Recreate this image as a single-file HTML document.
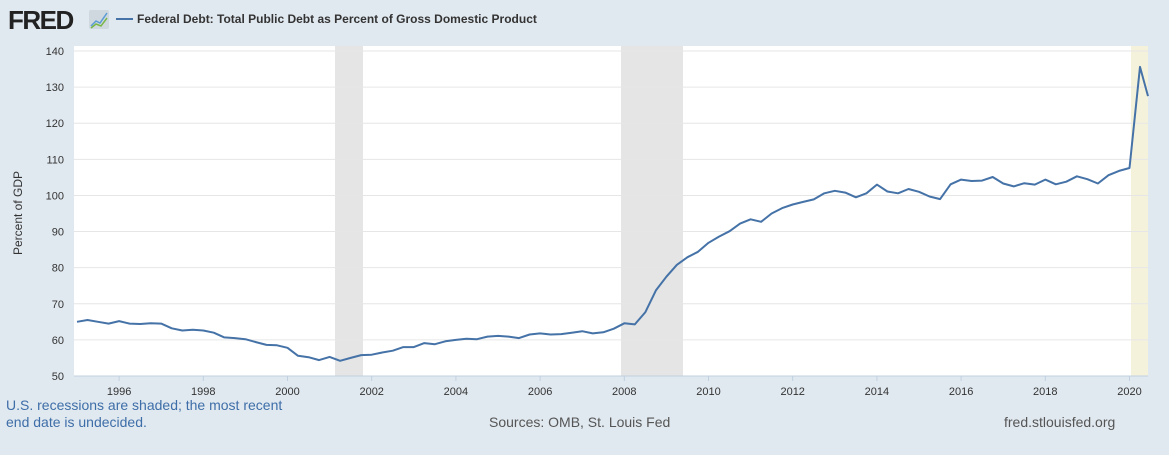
<!DOCTYPE html>
<html><head><meta charset="utf-8"><style>
body{margin:0;background:#e1e9f0;width:1169px;height:450px;overflow:hidden;font-family:"Liberation Sans",Arial,sans-serif}
</style></head><body>
<svg id="s" width="1169" height="450" xmlns="http://www.w3.org/2000/svg" font-family="Liberation Sans, Arial, sans-serif">
<rect width="1169" height="450" fill="#e1e9f0"/>
<text x="8" y="29" font-size="26" font-weight="bold" fill="#222" letter-spacing="-1.5">FRED</text>
<rect x="89" y="10" width="20" height="19" rx="2" fill="#cfd8df"/>
<polyline points="91,26 96,21 100,23 107,13" fill="none" stroke="#5a9bd5" stroke-width="1.5"/>
<polyline points="91,28 96,24 101,26 107,18" fill="none" stroke="#7ab648" stroke-width="1.5"/>
<line x1="116" y1="19" x2="133" y2="19" stroke="#4572a7" stroke-width="2"/>
<text x="137" y="23" font-size="12" font-weight="bold" fill="#333">Federal Debt: Total Public Debt as Percent of Gross Domestic Product</text>
<rect x="74" y="46" width="1074" height="330" fill="#fff"/>
<rect x="335" y="46" width="28" height="330" fill="#e5e5e5"/>
<rect x="621" y="46" width="62" height="330" fill="#e5e5e5"/>
<rect x="1131" y="46" width="17" height="330" fill="#f5f2dc"/>
<g id="grid"></g>
<line x1="74" y1="376" x2="1148" y2="376" stroke="#c0d0e0"/>
<g id="ticks"></g>
<text transform="translate(22,213) rotate(-90)" font-size="12" fill="#333" text-anchor="middle">Percent of GDP</text>
<polyline id="line" fill="none" stroke="#4572a7" stroke-width="2" stroke-linejoin="round"/>
<text x="6" y="410" font-size="14" fill="#3e6ea8">U.S. recessions are shaded; the most recent</text>
<text x="6" y="427" font-size="14" fill="#3e6ea8">end date is undecided.</text>
<text x="489" y="427" font-size="14" fill="#555">Sources: OMB, St. Louis Fed</text>
<text x="1004" y="427" font-size="14" fill="#555">fred.stlouisfed.org</text>
</svg>
<script>
var ns="http://www.w3.org/2000/svg",g=document.getElementById("grid"),t=document.getElementById("ticks");
function Y(v){return 376-(v-50)*3.611}
for(var v=50;v<=140;v+=10){var y=Y(v);
if(v>50){var l=document.createElementNS(ns,"line");l.setAttribute("x1",74);l.setAttribute("x2",1148);l.setAttribute("y1",y);l.setAttribute("y2",y);l.setAttribute("stroke","#e6e6e6");g.appendChild(l);}
var tx=document.createElementNS(ns,"text");tx.setAttribute("x",64);tx.setAttribute("y",y+4);tx.setAttribute("font-size","11");tx.setAttribute("fill","#333");tx.setAttribute("text-anchor","end");tx.textContent=v;t.appendChild(tx);}
for(var yr=1996;yr<=2020;yr+=2){var x=77+(yr-1995)*42.1;
var l=document.createElementNS(ns,"line");l.setAttribute("x1",x);l.setAttribute("x2",x);l.setAttribute("y1",376);l.setAttribute("y2",381);l.setAttribute("stroke","#c0d0e0");t.appendChild(l);
var tx=document.createElementNS(ns,"text");tx.setAttribute("x",x);tx.setAttribute("y",395);tx.setAttribute("font-size","11");tx.setAttribute("fill","#333");tx.setAttribute("text-anchor","middle");tx.textContent=yr;t.appendChild(tx);}
var d=[65.0,65.5,65.0,64.5,65.2,64.5,64.4,64.6,64.5,63.2,62.6,62.8,62.6,62.0,60.7,60.5,60.2,59.4,58.6,58.5,57.8,55.6,55.2,54.4,55.3,54.2,55.0,55.8,55.9,56.5,57.0,58.0,58.0,59.1,58.8,59.6,60.0,60.3,60.2,60.9,61.1,60.9,60.5,61.5,61.8,61.5,61.6,62.0,62.4,61.8,62.1,63.1,64.6,64.3,67.7,73.7,77.5,80.8,82.9,84.4,86.9,88.6,90.1,92.2,93.4,92.7,95.0,96.5,97.5,98.2,98.9,100.6,101.3,100.8,99.5,100.6,103.0,101.1,100.6,101.8,101.0,99.7,99.0,103.1,104.4,104.0,104.1,105.1,103.3,102.5,103.4,103.0,104.4,103.1,103.8,105.3,104.5,103.3,105.6,106.8,107.6,135.6,127.5];
var p=[];for(var i=0;i<d.length;i++){var x=77+i*10.525;if(x>1148)x=1148;p.push(x.toFixed(1)+","+Y(d[i]).toFixed(1));}
document.getElementById("line").setAttribute("points",p.join(" "));
</script>
</body></html>
